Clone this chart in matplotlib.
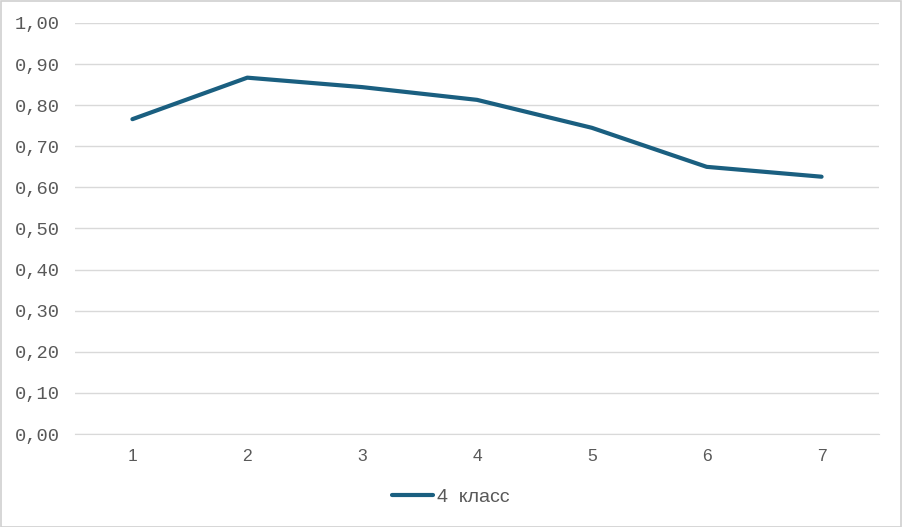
import matplotlib
matplotlib.use('Agg')
from matplotlib import pyplot as plt
from matplotlib.patches import Rectangle
from matplotlib.ticker import FuncFormatter

TASKS = [1, 2, 3, 4, 5, 6, 7]
SCORES = [0.766, 0.867, 0.844, 0.813, 0.745, 0.650, 0.626]
SERIES_NAME = '4  класс'
Y_TICKS = [0.0, 0.1, 0.2, 0.3, 0.4, 0.5, 0.6, 0.7, 0.8, 0.9, 1.0]

LINE_COLOR = '#1a5f80'
GRID_COLOR = '#d9d9d9'
TEXT_COLOR = '#595959'


def main():
    fig = plt.figure(figsize=(9.02, 5.27), dpi=100)
    ax = fig.add_axes([75 / 902, 1 - 434 / 527, 804 / 902, 411 / 527])

    ax.plot(TASKS, SCORES, color=LINE_COLOR, linewidth=3,
            solid_capstyle='round', label=SERIES_NAME)

    ax.set_xlim(0.5, 7.5)
    ax.set_ylim(0, 1)
    ax.set_yticks(Y_TICKS)
    ax.set_xticks(TASKS)
    ax.yaxis.set_major_formatter(FuncFormatter(lambda v, p: '{:.2f}'.format(v).replace('.', ',')))
    ax.grid(axis='y', color=GRID_COLOR, linewidth=1)
    ax.set_axisbelow(True)
    for side in ['top', 'right', 'left']:
        ax.spines[side].set_visible(False)
    ax.spines['bottom'].set_color(GRID_COLOR)
    ax.tick_params(axis='both', length=0)
    ax.tick_params(axis='y', pad=11, labelcolor=TEXT_COLOR)
    ax.tick_params(axis='x', pad=10.5, labelcolor=TEXT_COLOR)
    for lbl in ax.get_yticklabels():
        lbl.set_fontfamily('Liberation Mono')
        lbl.set_fontsize(13.5)
    for lbl in ax.get_xticklabels():
        lbl.set_fontfamily('Liberation Sans')
        lbl.set_fontsize(12.5)

    leg = fig.legend(loc='center', bbox_to_anchor=(0.5, 1 - 497 / 527), frameon=False,
                     prop={'family': 'Liberation Sans', 'size': 14}, handlelength=2.1,
                     handletextpad=0.2)
    for t in leg.get_texts():
        t.set_color(TEXT_COLOR)

    fig.patches.append(Rectangle((0.5 / 902, 0.5 / 527), 1 - 1.5 / 902, 1 - 1.5 / 527,
                                 transform=fig.transFigure, fill=False,
                                 edgecolor='#d0d0d0', linewidth=1.2))
    fig.savefig('out.png', dpi=100)


if __name__ == '__main__':
    main()
